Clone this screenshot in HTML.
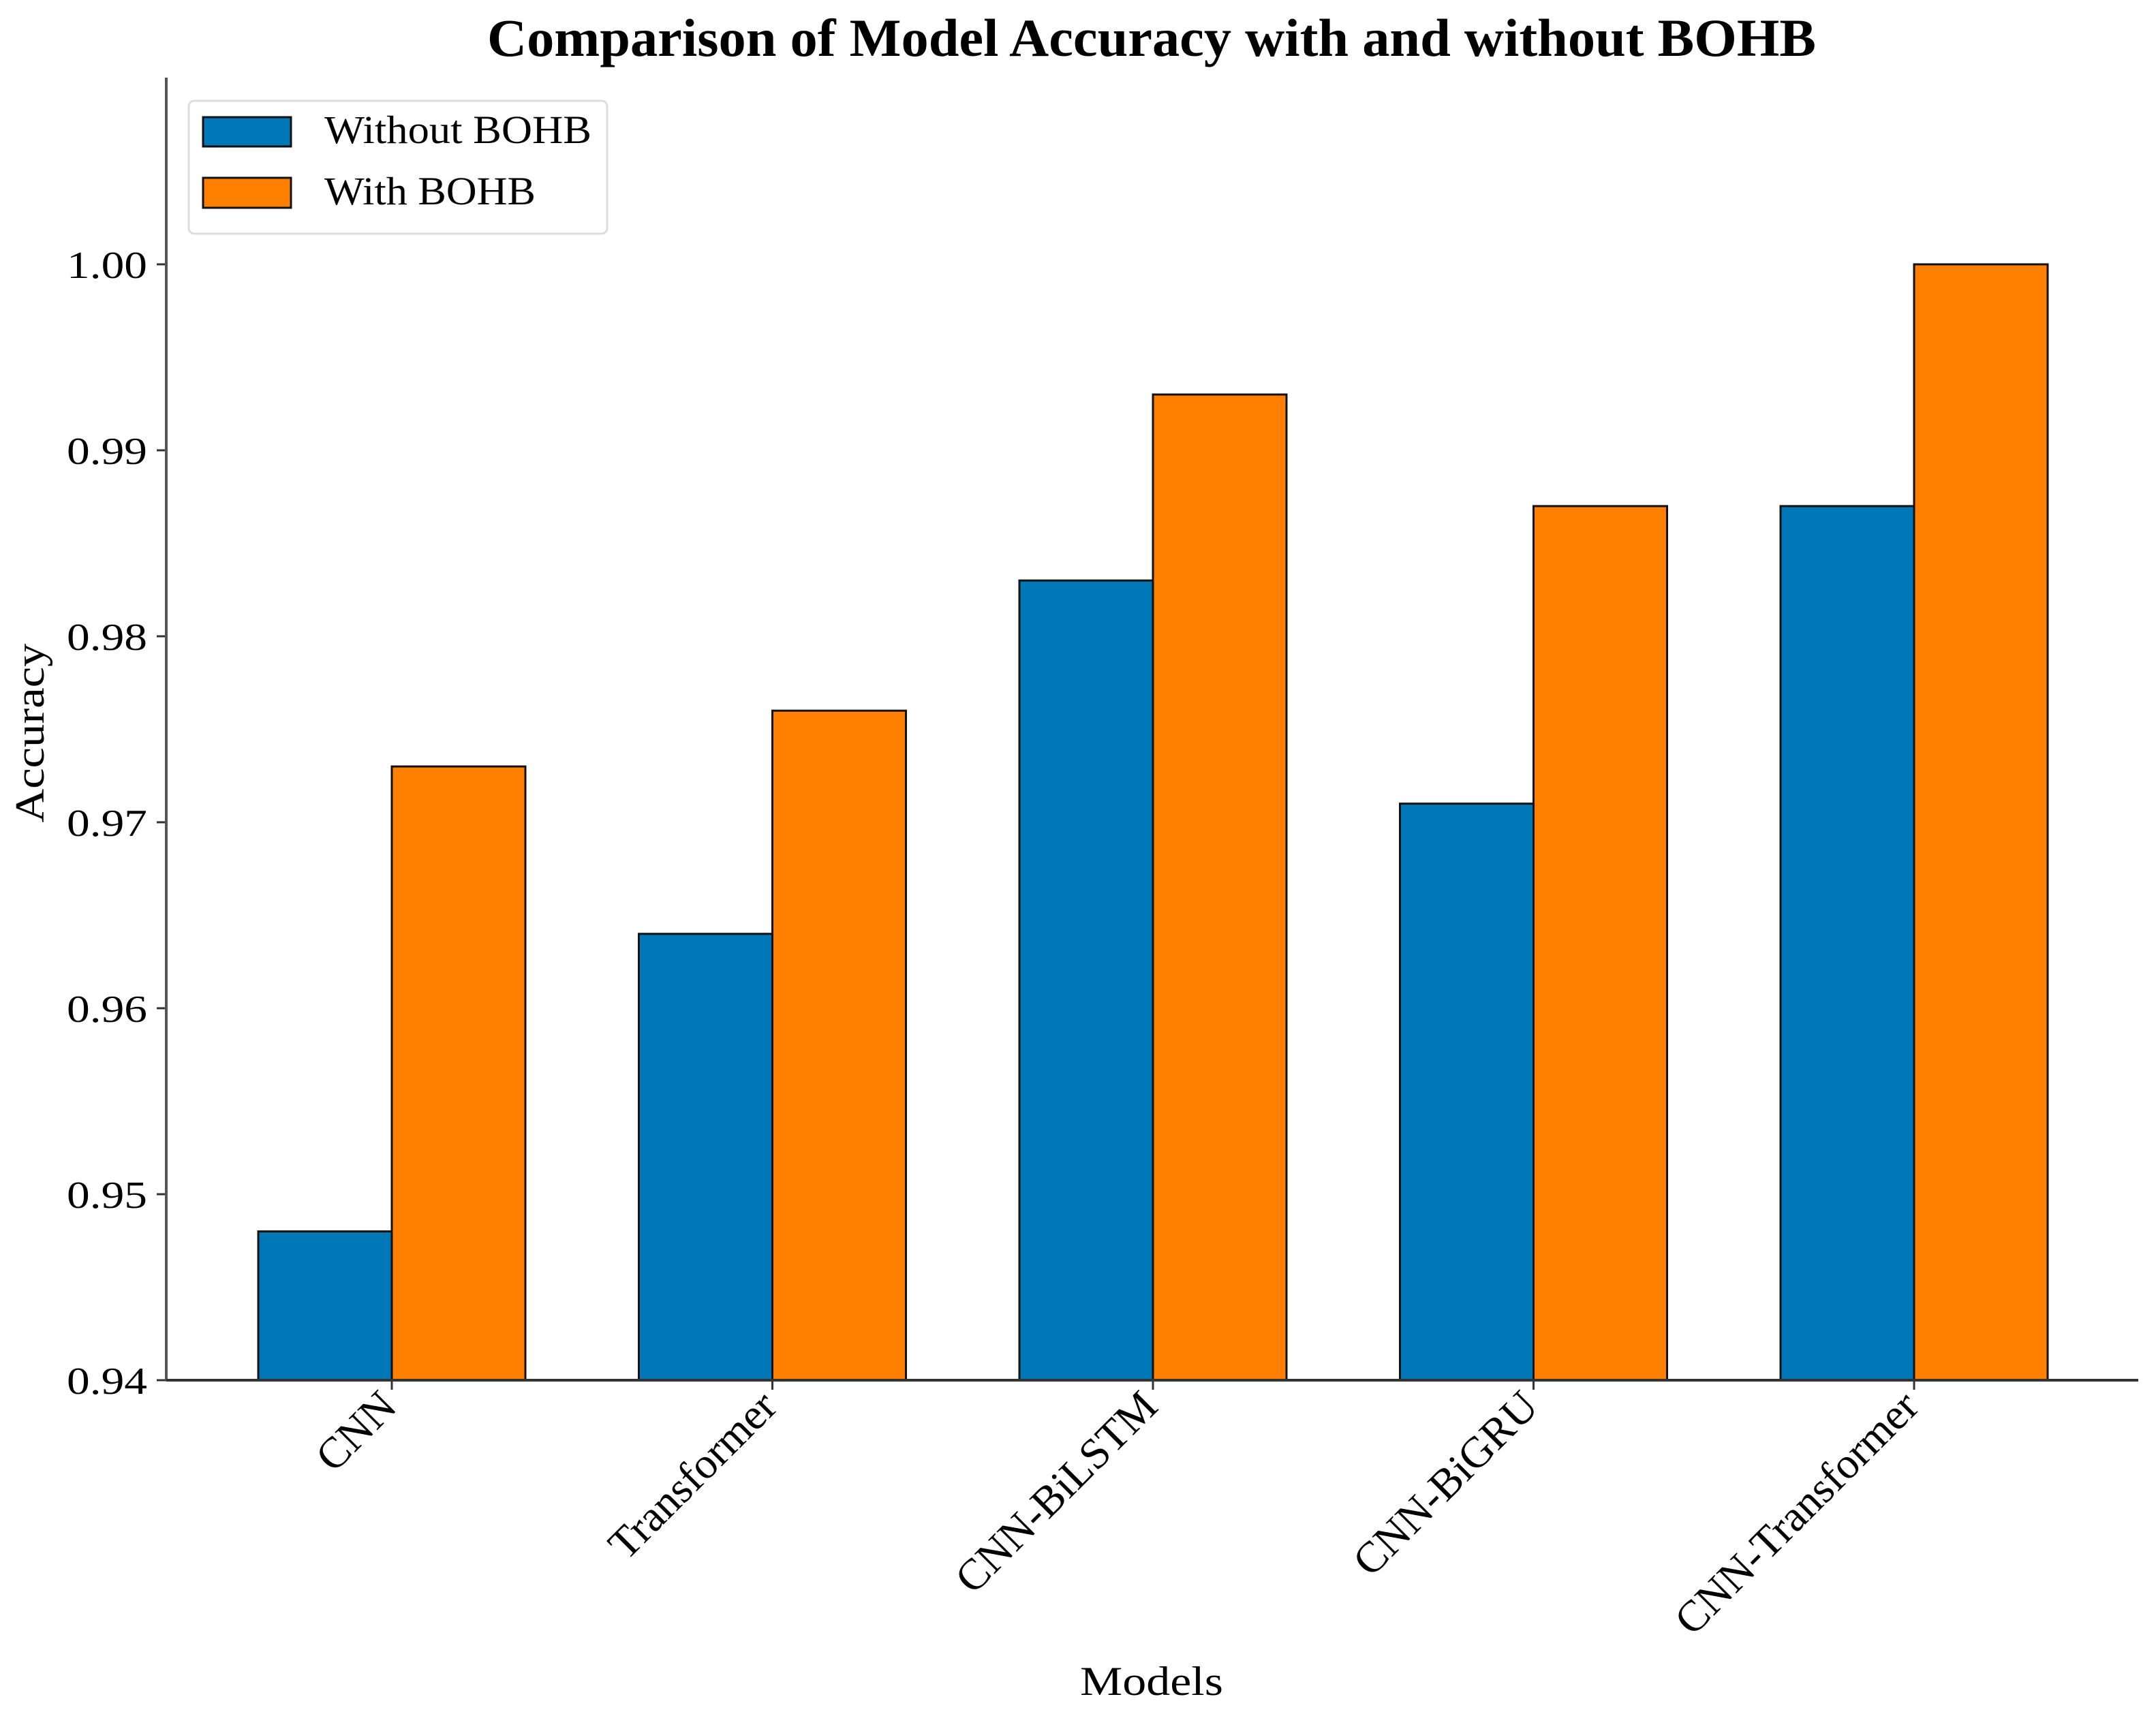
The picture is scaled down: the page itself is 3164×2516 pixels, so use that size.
<!DOCTYPE html>
<html><head><meta charset="utf-8"><style>
html,body{margin:0;padding:0;background:#fff;}
svg{display:block;font-family:"Liberation Serif","DejaVu Serif",serif;}
</style></head><body>
<svg id="chart" width="3164" height="2516" viewBox="0 0 3164 2516" xmlns="http://www.w3.org/2000/svg">
<rect width="3164" height="2516" fill="#fff"/>
<text x="1690" y="82" text-anchor="middle" font-size="78" font-weight="bold" textLength="1950" lengthAdjust="spacingAndGlyphs">Comparison of Model Accuracy with and without BOHB</text>
<g id="bars"></g>
<g id="axes"></g>
<text transform="translate(64,1076) rotate(-90)" text-anchor="middle" font-size="60" textLength="263" lengthAdjust="spacingAndGlyphs">Accuracy</text>
<text x="1690" y="2488" text-anchor="middle" font-size="60" textLength="210" lengthAdjust="spacingAndGlyphs">Models</text>
<g>
<rect x="277" y="148" width="614" height="195" rx="8" fill="#fff" stroke="#ddd" stroke-width="3"/>
<rect x="298" y="172" width="129" height="43" fill="#0077b6" stroke="#111" stroke-width="3"/>
<text x="476" y="210" font-size="58" textLength="392" lengthAdjust="spacingAndGlyphs">Without BOHB</text>
<rect x="298" y="261" width="129" height="44" fill="#ff7f00" stroke="#111" stroke-width="3"/>
<text x="476" y="300" font-size="58" textLength="310" lengthAdjust="spacingAndGlyphs">With BOHB</text>
</g>
</svg>
<script>
const categories = ["CNN","Transformer","CNN-BiLSTM","CNN-BiGRU","CNN-Transformer"];
const withoutBOHB = [0.948,0.964,0.983,0.971,0.987];
const withBOHB = [0.973,0.976,0.993,0.987,1.000];
const yTicks = [0.94,0.95,0.96,0.97,0.98,0.99,1.00];
const yTickLabels = ["0.94","0.95","0.96","0.97","0.98","0.99","1.00"];

const NS="http://www.w3.org/2000/svg";
const plotL=244, plotR=3138, plotTop=114, plotBottom=2026;
const yMin=0.94, yMax=1.00, yMaxPx=388;
function yScale(v){return plotBottom-(v-yMin)/(yMax-yMin)*(plotBottom-yMaxPx);}
const firstCenter=575, step=558.5, barW=196;
function xScale(i){return firstCenter+i*step;}
function mk(tag,attrs,parent){const e=document.createElementNS(NS,tag);for(const k in attrs)e.setAttribute(k,attrs[k]);parent.appendChild(e);return e;}
const bars=document.getElementById('bars'), axes=document.getElementById('axes');
categories.forEach((c,i)=>{
  const cx=xScale(i);
  const y1=yScale(withoutBOHB[i]);
  const b1=mk('rect',{x:cx-barW,y:y1,width:barW,height:plotBottom-y1,fill:'#0077b6',stroke:'#111','stroke-width':3},bars);
  
  
  const y2=yScale(withBOHB[i]);
  const b2=mk('rect',{x:cx,y:y2,width:barW,height:plotBottom-y2,fill:'#ff7f00',stroke:'#111','stroke-width':3},bars);
  
  
  const t=mk('line',{x1:cx,y1:plotBottom,x2:cx,y2:plotBottom+14,stroke:'#333','stroke-width':3},axes);
  
  
  const lbl=mk('text',{transform:`translate(${cx+10},${plotBottom+42}) rotate(-45)`,'text-anchor':'end','font-size':64},axes);
  lbl.textContent=c;
  
  
});
yTicks.forEach((v,i)=>{
  const y=yScale(v);
  const t=mk('line',{x1:plotL-14,y1:y,x2:plotL,y2:y,stroke:'#333','stroke-width':3},axes);
  
  
  const lbl=mk('text',{x:plotL-28,y:y+20,'text-anchor':'end','font-size':56,textLength:118,lengthAdjust:'spacingAndGlyphs'},axes);
  lbl.textContent=yTickLabels[i];
  
  
});
const ya=mk('line',{x1:plotL,y1:plotTop,x2:plotL,y2:plotBottom,stroke:'#555','stroke-width':4},axes);


const xa=mk('line',{x1:plotL,y1:plotBottom,x2:plotR,y2:plotBottom,stroke:'#333','stroke-width':4},axes);


</script>
</body></html>
